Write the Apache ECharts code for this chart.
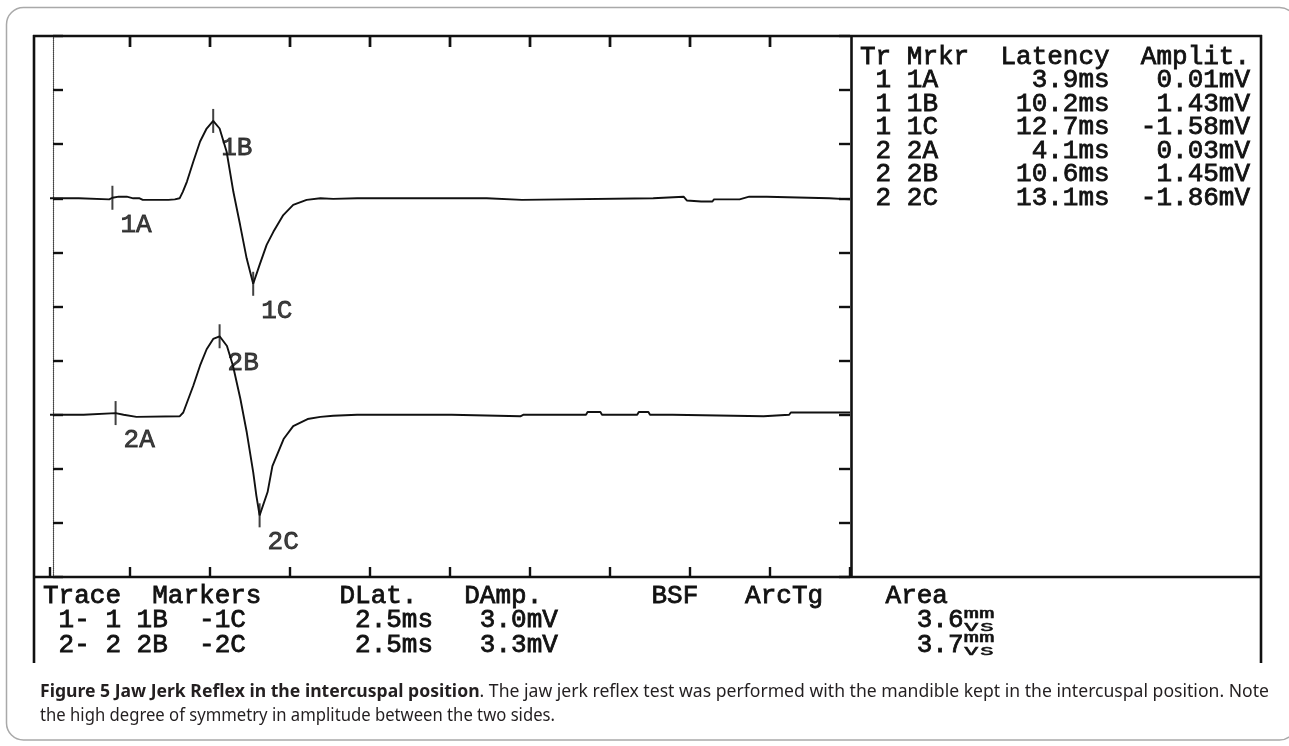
<!DOCTYPE html>
<html>
<head>
<meta charset="utf-8">
<script src="https://cdn.jsdelivr.net/npm/echarts/dist/echarts.min.js"></script>
<style>
  html, body { margin: 0; padding: 0; background: #ffffff; }
  #main { width: 1289px; height: 746px; }
</style>
</head>
<body>
<div id="main"></div>
<script>
// ---------------- DATA ----------------
// Trace 1 (time in ms, amplitude in mV)
const trace1Time = [0, 1.8, 1.9, 3.7, 3.9, 4.3, 4.8, 5.2, 5.6, 5.8, 7.4, 7.8, 8.1, 8.3, 8.56, 8.96, 9.38, 9.79, 10.2, 10.6, 11.04, 11.46, 11.88, 12.29, 12.7, 13.1, 13.54, 13.96, 14.58, 15.2, 16.04, 16.9, 17.7, 19.2, 27.3, 27.4, 29.5, 29.6, 37.7, 37.8, 39.6, 39.8, 40.7, 41.4, 41.5, 43.1, 43.2, 43.7, 44.8, 44.9, 48.7, 48.8, 50];
const trace1Mv   = [0, 0, -0.02, -0.02, 0.01, 0.03, 0.03, 0, 0, -0.03, -0.03, -0.02, 0.0, 0.12, 0.31, 0.68, 1.05, 1.29, 1.43, 1.29, 0.86, 0.12, -0.49, -1.11, -1.58, -1.23, -0.86, -0.62, -0.31, -0.12, -0.03, 0, -0.01, 0, 0, -0.03, -0.03, 0, 0, 0.03, 0.03, -0.04, -0.06, -0.06, -0.02, -0.02, 0, 0.03, 0.03, 0, 0, -0.02, -0.02];
// Trace 2
const trace2Time = [0, 2.1, 2.2, 4.1, 4.6, 5.4, 8.1, 8.33, 8.96, 9.38, 9.79, 10.2, 10.6, 11.06, 11.44, 11.9, 12.3, 12.7, 12.9, 13.1, 13.6, 13.9, 14.6, 15.2, 16.1, 16.9, 17.7, 19.2, 25.1, 25.2, 29.4, 29.6, 33.5, 33.6, 34.4, 34.5, 36.7, 36.8, 37.4, 37.5, 38.9, 39.0, 44.6, 44.7, 46.2, 46.3, 50];
const trace2Mv   = [0, 0, 0.03, 0.03, 0, -0.04, -0.03, 0.04, 0.54, 0.91, 1.21, 1.40, 1.45, 1.27, 0.9, 0.29, -0.33, -1.06, -1.5, -1.86, -1.43, -0.95, -0.45, -0.21, -0.08, -0.04, -0.02, 0, 0, -0.03, -0.03, 0, 0, 0.05, 0.05, 0, 0, 0.05, 0.05, 0, 0, -0.03, -0.03, 0, 0, 0.04, 0.04];

// Time-axis division ticks (ms) shown along the top edge
const topTicksMs = [5, 10, 15, 20, 25, 30, 35, 40, 45];

// Marker table
const markerTrace = [1, 1, 1, 2, 2, 2];
const markerNames = ['1A', '1B', '1C', '2A', '2B', '2C'];
const latencyMs   = [3.9, 10.2, 12.7, 4.1, 10.6, 13.1];
const amplitudeMv = [0.01, 1.43, -1.58, 0.03, 1.45, -1.86];
const markerHeader = 'Tr Mrkr  Latency  Amplit.';

// Difference table
const diffHeaders = ['Trace', 'Markers', 'DLat.', 'DAmp.', 'BSF', 'ArcTg', 'Area'];
const diffTrace = ['1- 1', '2- 2'];
const diffFrom  = ['1B', '2B'];
const diffTo    = ['-1C', '-2C'];
const diffLatMs = [2.5, 2.5];
const diffAmpMv = [3.0, 3.3];
const diffArea  = [3.6, 3.7];
const areaUnitTop = 'mm';
const areaUnitBottom = 'vs';

// Caption
const captionBold = 'Figure 5 Jaw Jerk Reflex in the intercuspal position';
const captionRest1 = '. The jaw jerk reflex test was performed with the mandible kept in the intercuspal position. Note';
const captionLine2 = 'the high degree of symmetry in amplitude between the two sides.';

// ---------------- BUILD ----------------
const MONO = '"Liberation Mono", "DejaVu Sans Mono", monospace';
const FS = 26;
const CW = 15.6;           // char advance for the mono font
const INK = '#111111';

const chart = echarts.init(document.getElementById('main'), null, { renderer: 'canvas' });

function zip(a, b) { return a.map((v, i) => [v, b[i]]); }

function markerData(tr) {
  const out = [];
  for (let i = 0; i < markerNames.length; i++) {
    if (markerTrace[i] === tr) out.push([latencyMs[i], amplitudeMv[i], markerNames[i]]);
  }
  return out;
}

function mono(str, x, y, extra) {
  return Object.assign({
    type: 'text', x: x, y: y, silent: true, z: 50,
    style: {
      text: str, font: FS + 'px ' + MONO, fill: INK,
      align: 'left', verticalAlign: 'middle',
      stroke: INK, lineWidth: 0.8
    }
  }, extra || {});
}

const graphics = [];

// outer rounded frame
graphics.push({
  type: 'rect', silent: true, z: 1,
  shape: { x: 6.5, y: 7.5, width: 1290, height: 732.5, r: 17 },
  style: { fill: null, stroke: '#a9a9a9', lineWidth: 1.5 }
});

// screen box lines
const boxLines = [
  [[34, 35], [34, 663]],
  [[33, 36], [1262, 36]],
  [[1261, 35], [1261, 663]],
  [[851.5, 36], [851.5, 577]],
  [[33, 577], [1262, 577]]
];
boxLines.forEach(l => graphics.push({
  type: 'line', silent: true, z: 40,
  shape: { x1: l[0][0], y1: l[0][1], x2: l[1][0], y2: l[1][1] },
  style: { stroke: INK, lineWidth: 2.6 }
}));

// marker table (top right)
const tx0 = 860, ty0 = 57, trow = 23.5;
graphics.push(mono(markerHeader, tx0, ty0));
for (let i = 0; i < markerNames.length; i++) {
  let s = ' ' + markerTrace[i] + ' ' + markerNames[i];
  const lat = latencyMs[i].toFixed(1) + 'ms';
  s = s.padEnd(16 - lat.length) + lat;
  const amp = amplitudeMv[i].toFixed(2) + 'mV';
  s = s.padEnd(25 - amp.length) + amp;
  graphics.push(mono(s, tx0, ty0 + trow * (i + 1)));
}

// difference table (bottom)
const bx0 = 43, by0 = 596, brow = 24.5;
const headerCols = [0, 7, 19, 27, 39, 45, 54];
let hdr = '';
diffHeaders.forEach((h, i) => { hdr = hdr.padEnd(headerCols[i]) + h; });
graphics.push(mono(hdr, bx0, by0));
for (let i = 0; i < diffTrace.length; i++) {
  let s = ' ' + diffTrace[i] + ' ' + diffFrom[i] + '  ' + diffTo[i];
  const dl = diffLatMs[i].toFixed(1) + 'ms';
  s = s.padEnd(25 - dl.length) + dl;
  const da = diffAmpMv[i].toFixed(1) + 'mV';
  s = s.padEnd(33 - da.length) + da;
  const ar = diffArea[i].toFixed(1);
  s = s.padEnd(59 - ar.length) + ar;
  const y = by0 + brow * (i + 1);
  graphics.push(mono(s, bx0, y));
  graphics.push(mono(areaUnitTop, bx0 + 59 * CW, y - 6.5, { scaleY: 0.55 }));
  graphics.push(mono(areaUnitBottom, bx0 + 59 * CW, y + 6.5, { scaleY: 0.55 }));
}

// caption
const cap = document.createElement('canvas').getContext('2d');
const CAP_FONT = '"Noto Sans", "Open Sans", sans-serif';
const CAP_FS = 17.5;
cap.font = 'bold ' + CAP_FS + 'px ' + CAP_FONT;
const wBold = cap.measureText(captionBold).width;
cap.font = CAP_FS + 'px ' + CAP_FONT;
const wRest = cap.measureText(captionRest1).width;
const wLine2 = cap.measureText(captionLine2).width;
const capX = 40, capRight = 1269, cap2Right = 555;
const sx = (capRight - capX) / (wBold + wRest);
const sx2 = (cap2Right - capX) / wLine2;
const capY1 = 692, capY2 = 716;
graphics.push({
  type: 'text', x: capX, y: capY1, scaleX: sx, silent: true,
  style: { text: captionBold, font: 'bold ' + CAP_FS + 'px ' + CAP_FONT, fill: '#231f20', align: 'left', verticalAlign: 'middle' }
});
graphics.push({
  type: 'text', x: capX + wBold * sx, y: capY1, scaleX: sx, silent: true,
  style: { text: captionRest1, font: CAP_FS + 'px ' + CAP_FONT, fill: '#231f20', align: 'left', verticalAlign: 'middle' }
});
graphics.push({
  type: 'text', x: capX, y: capY2, scaleX: sx2, silent: true,
  style: { text: captionLine2, font: CAP_FS + 'px ' + CAP_FONT, fill: '#231f20', align: 'left', verticalAlign: 'middle' }
});

const tickStyle = { color: INK, width: 2.4 };
const labelStyle = {
  show: true,
  formatter: p => p.data[2],
  position: [9, 39],
  align: 'left',
  verticalAlign: 'middle',
  fontFamily: MONO,
  fontSize: FS,
  color: INK,
  textBorderColor: INK,
  textBorderWidth: 0.8
};

const Y1_MIN = -7, Y1_MAX = 3, Y2_MIN = -3, Y2_MAX = 7;

const option = {
  animation: false,
  backgroundColor: '#ffffff',
  grid: { left: 50, top: 36, width: 800, height: 541, containLabel: false, show: false },
  xAxis: {
    type: 'value', min: 0, max: 50, interval: 5, position: 'bottom',
    axisLine: { show: false, onZero: false },
    axisTick: { show: true, inside: true, length: 10, lineStyle: tickStyle },
    axisLabel: { show: false }, splitLine: { show: false }
  },
  yAxis: [
    {
      type: 'value', min: Y1_MIN, max: Y1_MAX, interval: 1, position: 'left', offset: -3,
      axisLine: { show: true, onZero: false, lineStyle: { color: '#444', width: 1.2, type: [1, 1] } },
      axisTick: { show: true, inside: true, length: 10, lineStyle: tickStyle },
      axisLabel: { show: false }, splitLine: { show: false }
    },
    {
      type: 'value', min: Y2_MIN, max: Y2_MAX, interval: 1, position: 'right',
      axisLine: { show: false, onZero: false },
      axisTick: { show: true, inside: true, length: 11, lineStyle: tickStyle },
      axisLabel: { show: false }, splitLine: { show: false }
    }
  ],
  series: [
    {
      name: 'Top ticks', type: 'custom', xAxisIndex: 0, yAxisIndex: 0,
      data: topTicksMs.map(v => [v, Y1_MAX]), silent: true, clip: false, z: 45,
      renderItem: (params, api) => {
        const p = api.coord([api.value(0), api.value(1)]);
        return {
          type: 'line', z2: 100,
          shape: { x1: p[0], y1: p[1], x2: p[0], y2: p[1] + 11 },
          style: { stroke: INK, lineWidth: 2.4 }
        };
      }
    },
    {
      name: 'Trace 1', type: 'line', xAxisIndex: 0, yAxisIndex: 0,
      data: zip(trace1Time, trace1Mv), showSymbol: false, symbol: 'none',
      lineStyle: { color: INK, width: 1.9 }, z: 10
    },
    {
      name: 'Trace 2', type: 'line', xAxisIndex: 0, yAxisIndex: 1,
      data: zip(trace2Time, trace2Mv), showSymbol: false, symbol: 'none',
      lineStyle: { color: INK, width: 1.9 }, z: 10
    },
    {
      name: 'Markers 1', type: 'scatter', xAxisIndex: 0, yAxisIndex: 0,
      data: markerData(1), symbol: 'rect', symbolSize: [2, 24],
      itemStyle: { color: INK }, label: labelStyle, z: 12
    },
    {
      name: 'Markers 2', type: 'scatter', xAxisIndex: 0, yAxisIndex: 1,
      data: markerData(2), symbol: 'rect', symbolSize: [2, 24],
      itemStyle: { color: INK }, label: labelStyle, z: 12
    }
  ],
  graphic: graphics
};

chart.setOption(option);

// Fallback: top-edge division ticks placed through the x axis scale
const extra = [];
topTicksMs.forEach(v => {
  const p = chart.convertToPixel({ xAxisIndex: 0, yAxisIndex: 0 }, [v, Y1_MAX]);
  if (p && isFinite(p[0])) {
    extra.push({
      type: 'line', silent: true, z: 45,
      shape: { x1: p[0], y1: p[1], x2: p[0], y2: p[1] + 11 },
      style: { stroke: INK, lineWidth: 2.4 }
    });
  }
});
option.graphic = graphics.concat(extra);
chart.setOption(option, true);
</script>
</body>
</html>
